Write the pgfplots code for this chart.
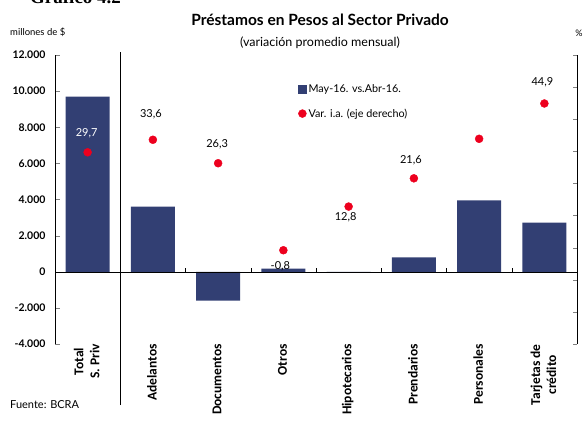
\documentclass[border=0pt]{standalone}
\usepackage{pgfplots}
\pgfplotsset{compat=1.18}
\usepackage{fontspec}
\setmainfont{Lato}
\newfontfamily\xlab{Carlito}
\newfontfamily\serifb{Liberation Serif}
\definecolor{navy}{RGB}{50,63,115}
\definecolor{dotred}{RGB}{237,0,30}

\begin{document}
\begin{tikzpicture}
\useasboundingbox (0pt,0pt) rectangle (585pt,421pt);
\begin{scope}
\clip (0pt,0pt) rectangle (585pt,421pt);
\node[anchor=base west, font=\serifb\bfseries\fontsize{19}{19}\selectfont, inner sep=0pt] at (30pt,417pt) {Gráfico 4.2};
\node[font=\bfseries\fontsize{15.5}{17}\selectfont] at (320pt,401pt) {Préstamos en Pesos al Sector Privado};
\node[font=\fontsize{12.5}{14}\selectfont] at (320pt,378pt) {(variación promedio mensual)};
\node[anchor=west, font=\fontsize{9.5}{11}\selectfont, inner sep=0pt] at (10pt,389pt) {millones de \$};
\node[font=\fontsize{9}{11}\selectfont] at (579pt,388pt) {\%};
\node[anchor=west, font=\fontsize{11}{13}\selectfont, inner sep=0pt] at (10pt,16pt) {Fuente: BCRA};

\begin{axis}[
  at={(55pt,77pt)}, anchor=south west, scale only axis,
  width=522pt, height=289pt,
  xmin=-0.5, xmax=7.5, ymin=-4000, ymax=12000,
  scaled y ticks=false,
  axis y line*=left, axis x line*=bottom,
  axis line style={-}, x axis line style={draw=none},
  tick align=inside, major tick length=4.5pt,
  xtick={0,1,2,3,4,5,6,7},
  xtick style={draw=none},
  xticklabels={{Total\\S. Priv},Adelantos,Documentos,Otros,Hipotecarios,Prendarios,Personales,{Tarjetas de\\crédito}},
  xticklabel style={xshift=-1pt, rotate=90, anchor=east, align=center, inner sep=0pt,
    font=\xlab\bfseries\fontsize{13.5}{16}\selectfont},
  ytick={-4000,-2000,0,2000,4000,6000,8000,10000,12000},
  yticklabels={{-4.000},{-2.000},0,{2.000},{4.000},{6.000},{8.000},{10.000},{12.000}},
  yticklabel style={font=\bfseries\fontsize{10.5}{12}\selectfont, xshift=-6pt},
]
\addplot[ybar, bar width=44pt, fill=navy, draw=none] coordinates {
  (0,9700) (1,3600) (2,-1600) (3,180) (4,-50) (5,800) (6,3950) (7,2720)};
\draw (axis cs:-0.5,0) -- (axis cs:7.5,0);
\draw (axis cs:1.5,0) -- ++(0pt,3.5pt);
\draw (axis cs:2.5,0) -- ++(0pt,3.5pt);
\draw (axis cs:3.5,0) -- ++(0pt,3.5pt);
\draw (axis cs:4.5,0) -- ++(0pt,3.5pt);
\draw (axis cs:5.5,0) -- ++(0pt,3.5pt);
\draw (axis cs:6.5,0) -- ++(0pt,3.5pt);
\end{axis}

\begin{axis}[
  at={(55pt,77pt)}, anchor=south west, scale only axis,
  width=522pt, height=289pt,
  xmin=-0.5, xmax=7.5, ymin=-30, ymax=60,
  axis y line*=right, axis x line=none, axis line style={-},
  tick align=inside, major tick length=4.5pt,
  ytick={-30,-20,-10,0,10,20,30,40,50,60}, yticklabels={},
  legend style={at={(0.4655,0.9066)}, anchor=north west, draw=none, fill=none,
    font=\fontsize{10.8}{12}\selectfont, row sep=11pt, inner sep=0pt},
  legend cell align=left,
]
\addlegendimage{legend image code/.code={\fill[navy] (-4pt,-4pt) rectangle (4pt,4pt);}}
\addlegendentry{May-16. vs.Abr-16.}
\addplot[only marks, mark=*, mark size=4pt, color=dotred,
  legend image code/.code={\fill[dotred] (0pt,0pt) circle (4pt);}] coordinates {
  (0,29.7) (1,33.6) (2,26.3) (3,-0.8) (4,12.8) (5,21.6) (6,33.9) (7,44.9)};
\addlegendentry{Var. i.a. (eje derecho)}
\node[font=\fontsize{11}{12}\selectfont, text=white, xshift=-1pt, yshift=19pt] at (axis cs:0,29.7) {29,7};
\node[font=\fontsize{11}{12}\selectfont, xshift=-2pt, yshift=26pt] at (axis cs:1,33.6) {33,6};
\node[font=\fontsize{11}{12}\selectfont, xshift=-1pt, yshift=19pt] at (axis cs:2,26.3) {26,3};
\node[font=\fontsize{11}{12}\selectfont, xshift=-3pt, yshift=-16pt] at (axis cs:3,-0.8) {-0,8};
\node[font=\fontsize{11}{12}\selectfont, xshift=-3pt, yshift=-11pt] at (axis cs:4,12.8) {12,8};
\node[font=\fontsize{11}{12}\selectfont, xshift=-3pt, yshift=18pt] at (axis cs:5,21.6) {21,6};
\node[font=\fontsize{11}{12}\selectfont, xshift=-2pt, yshift=21pt] at (axis cs:7,44.9) {44,9};
\end{axis}

\draw (120.25pt,16pt) -- (120.25pt,369pt);
\end{scope}
\end{tikzpicture}
\end{document}
